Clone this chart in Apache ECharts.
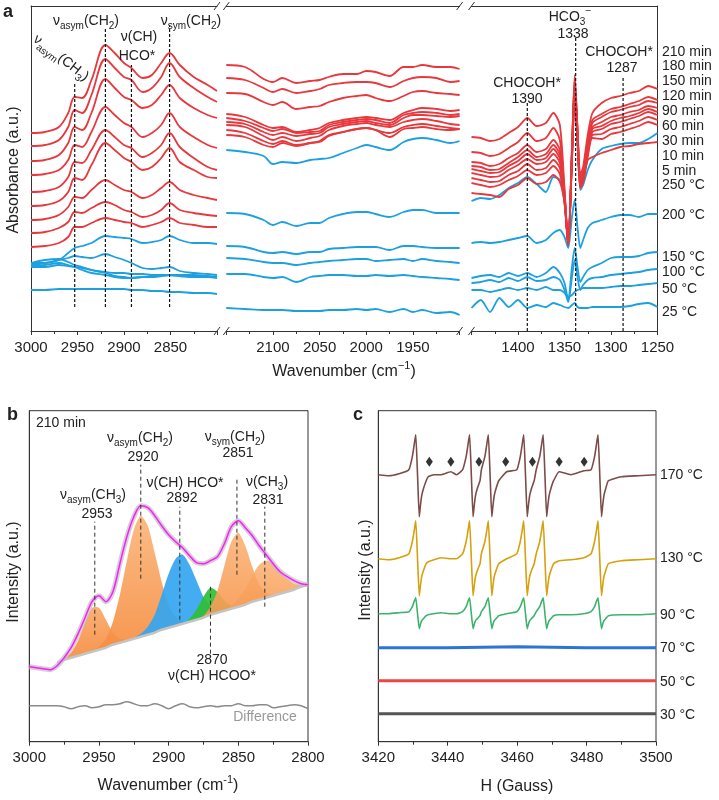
<!DOCTYPE html>
<html><head><meta charset="utf-8">
<script src="https://cdn.jsdelivr.net/npm/echarts@6/dist/echarts.min.js"></script>
<style>html,body{margin:0;padding:0;background:#fff}#c{width:719px;height:800px}</style>
</head><body><div id="c"></div>
<script>
// ---------- Panel a data (absorbance, arbitrary offset units) ----------
const wnLeft  = [3000,2985,2970,2960,2953,2945,2935,2920,2910,2900,2892,2880,2870,2860,2851,2840,2825,2810,2800];
const wnMid   = [2150,2130,2110,2100,2090,2075,2060,2050,2040,2025,2010,2000,1990,1975,1960,1950,1940,1925,1910,1900];
const wnRight = [1450,1440,1430,1420,1410,1400,1390,1380,1370,1362,1355,1350,1346,1342,1339,1336,1333,1330,1325,1320,1310,1300,1290,1280,1270,1260,1250];

const m210_L = [198,199,204,218,234,233,251,286,278,268,263,253,256,268,278,266,254,246,240];
const m180_L = [185,186,191,204,221,218,236,272,263,254,251,239,243,254,268,254,243,234,229];
const m150_L = [170,171,176,188,204,201,218,252,243,234,231,223,226,236,246,233,223,216,213];
const m120_L = [156,157,161,171,186,184,199,224,216,208,204,194,198,206,218,204,194,186,183];
const m90_L  = [139,140,144,154,169,168,181,201,194,186,183,174,178,186,198,184,173,164,161];
const m60_L  = [125,126,130,139,153,151,166,188,181,173,169,161,164,173,183,169,161,154,153];
const m30_L  = [111,112,116,124,134,133,141,151,146,141,139,133,136,143,149,141,136,133,131];
const m10_L  = [98,99,103,109,119,118,123,129,126,121,119,114,116,121,128,121,118,116,115];
const m5_L   = [84,85,88,94,104,104,108,113,111,109,108,104,106,109,113,108,106,104,104];
const c250_L = [68,68,71,78,83,85,88,95,94,93,92,88,89,91,95,91,88,88,87];
const c200_L = [66,68,71,73,75,74,73,77,74,71,68,63,62,63,64,60,58,57,56];
const c150_L = [68,71,72,69,66,64,61,58,55,54,53,54,54,55,56,55,54,54,54];
const c100_L = [65,66,68,66,64,61,58,56,54,53,53,54,54,55,56,55,54,54,53];
const c50_L  = [64,64,66,65,64,63,61,59,58,58,57,57,56,56,56,56,56,55,54];
const c25_L  = [41,41,42,42,42,42,42,42,42,42,41,41,40,40,39,39,38,38,37];

const m210_M = [266,264,252,249,253,248,250,251,254,257,257,260,259,255,264,264,266,264,264,262];
const m180_M = [253,251,243,239,242,238,240,242,246,248,249,249,248,244,250,253,254,253,249,250];
const m150_M = [238,237,229,226,229,222,224,225,229,233,235,236,233,230,235,239,240,238,237,236];
const m120_M = [217,214,206,203,204,199,201,203,208,211,213,214,213,211,218,221,223,222,220,221];
const m90_M  = [213,210,203,200,202,198,199,200,206,209,211,212,211,208,216,218,219,218,216,217];
const m60_M  = [209,207,199,196,198,195,197,198,204,207,209,210,208,206,213,216,216,215,214,215];
const m30_M  = [206,204,195,191,194,190,193,195,201,205,207,208,206,204,209,211,212,210,207,206];
const m10_M  = [201,198,190,187,190,186,188,189,195,199,202,203,201,198,204,206,207,205,203,202];
const m5_M   = [196,194,186,184,188,185,188,190,196,199,202,203,201,194,202,203,204,202,201,202];
const c250_M = [181,179,175,167,169,168,171,172,173,178,183,186,184,181,189,192,193,191,188,190];
const c200_M = [118,117,111,106,109,105,108,108,113,117,119,119,117,114,119,121,121,118,118,118];
const c150_M = [85,84,79,78,79,77,79,79,82,83,84,84,84,81,85,85,84,83,83,83];
const c100_M = [73,72,69,68,68,66,68,69,70,71,72,72,70,71,72,70,72,70,69,68];
const c50_M  = [57,57,54,53,54,49,54,55,56,56,55,55,56,55,56,55,54,53,52,51];
const c25_M  = [23,22,21,21,21,20,20,20,21,21,22,21,22,19,22,19,21,18,19,16];

const m210_R = [194,193,190,192,198,204,213,205,208,218,206,143,86,184,256,204,156,164,196,218,228,233,235,238,240,245,242];
const m180_R = [179,178,175,177,183,189,198,190,193,203,191,139,86,181,252,201,153,159,189,211,217,222,224,227,230,234,231];
const m150_R = [169,168,165,167,173,178,186,179,182,191,181,138,86,179,248,199,151,158,186,208,214,219,221,224,226,230,228];
const m120_R = [165,164,161,162,168,174,181,174,177,186,176,136,86,178,246,198,149,156,184,204,209,214,216,219,221,225,223];
const m90_R  = [162,160,158,159,165,170,177,171,173,182,172,134,86,176,244,196,148,154,182,202,205,210,213,215,218,222,219];
const m60_R  = [158,156,154,155,161,166,172,167,169,177,168,133,86,174,242,194,147,153,179,199,202,207,209,212,215,219,216];
const m30_R  = [153,151,149,150,156,160,167,161,163,171,163,131,86,173,239,193,146,152,177,196,197,202,204,207,210,214,211];
const m10_R  = [148,146,144,146,151,155,161,156,158,165,157,129,86,171,237,191,144,150,174,193,192,197,199,202,205,209,206];
const m5_R   = [138,137,136,134,142,146,153,147,149,156,149,128,86,169,234,189,143,148,171,174,178,181,184,185,187,188,189];
const c250_R = [130,133,132,136,143,148,154,147,139,154,151,128,86,171,231,188,141,146,161,171,182,185,187,188,188,192,198];
const c200_R = [88,89,88,89,91,93,95,88,91,98,101,94,83,114,131,104,83,91,103,108,111,114,116,116,114,117,117];
const c150_R = [53,55,56,54,58,55,58,54,58,64,58,48,31,64,83,64,49,54,61,64,68,73,74,74,75,78,79];
const c100_R = [48,49,51,49,53,50,54,50,51,54,51,41,29,54,71,54,41,46,51,53,54,56,57,58,59,61,62];
const c50_R  = [41,41,39,41,43,41,43,41,44,41,41,38,34,36,39,41,42,43,43,43,43,44,45,45,46,47,48];
const c25_R  = [23,31,19,33,24,31,23,26,24,28,26,24,23,26,28,24,23,23,23,24,24,24,24,25,27,28,24];

const labelsA = ['210 min','180 min','150 min','120 min','90 min','60 min','30 min','10 min','5 min','250 °C','200 °C','150 °C','100 °C','50 °C','25 °C'];
// annotation dashed lines: [wavenumber, from, to]
const dashA_left  = [[2953,24,248],[2920,24,304],[2892,24,266],[2851,24,306]];
const dashA_right = [[1390,0,228],[1338,0,293],[1287,0,254]];

// ---------- Panel b data ----------
const wnB = [3000,2995,2990,2985,2980,2975,2970,2965,2960,2955,2950,2945,2940,2935,2930,2925,2920,2915,2910,2905,2900,2895,2890,2885,2880,2875,2870,2865,2860,2855,2850,2845,2840,2835,2830,2825,2820,2815,2810,2805,2800];
const envelopeB = [75,74,73,72,76,84,94,108,124,140,146,140,150,178,205,225,236,234,226,216,207,200,194,186,179,178,181,185,198,215,221,214,206,196,187,178,170,165,161,158,157];
const baseB = ['-','-','-','-',79,82,84,86,88,90,92,94,97,99,101,103,105,107,109,112,114,116,118,120,122,124,127,129,131,133,135,137,140,142,144,146,148,150,152,155,157];
const peak2953 = ['-','-','-','-',0,1,5,15,31,44,42,28,12,4,1,0,0,0,0,0,0,0,0,0,0,0,0,0,0,0,0,0,0,0,0,0,0,0,0,0,0];
const peak2920 = ['-','-','-','-',0,0,0,0,0,1,3,9,23,48,80,109,121,109,80,48,23,9,3,1,0,0,0,0,0,0,0,0,0,0,0,0,0,0,0,0,0];
const peak2892 = ['-','-','-','-',0,0,0,0,0,0,0,0,0,0,0,1,3,8,18,35,54,67,69,57,39,21,9,3,1,0,0,0,0,0,0,0,0,0,0,0,0];
const peak2870 = ['-','-','-','-',0,0,0,0,0,0,0,0,0,0,0,0,0,0,0,0,0,0,0,3,10,21,27,21,10,3,0,0,0,0,0,0,0,0,0,0,0];
const peak2851 = ['-','-','-','-',0,0,0,0,0,0,0,0,0,0,0,0,0,0,0,0,0,0,0,0,0,2,8,22,45,67,74,59,35,15,5,1,0,0,0,0,0];
const peak2831 = ['-','-','-','-',0,0,0,0,0,0,0,0,0,0,0,0,0,0,0,0,0,0,0,0,0,0,0,0,1,3,8,16,26,35,37,32,22,13,6,2,1];
const diffB = [36,36,36,36,36,35,33,35,36,34,35,37,37,38,40,38,36,36,38,36,33,36,38,35,34,35,36,35,36,36,38,36,36,37,37,34,35,36,37,36,33];
const dashB = [[2953,107,220],[2920,163,277],[2892,122,235],[2870,88,158],[2851,167,263],[2831,135,235]];

// ---------- Panel c data ----------
const hC = [3420,3423,3426,3428.8,3429.8,3430.3,3430.55,3430.8,3431.3,3431.8,3432.1,3432.5,3433.0,3433.8,3434.4,3436,3438,3440.9,3442.5,3444.3,3445.3,3445.8,3446.05,3446.3,3446.8,3447.3,3447.6,3448.0,3448.5,3449.3,3449.7,3450.7,3451.2,3451.45,3451.7,3452.2,3452.7,3453.0,3453.4,3453.9,3454.7,3457.0,3459.9,3460.9,3461.4,3461.65,3461.9,3462.4,3462.9,3463.2,3463.6,3464.1,3464.9,3465.5,3466.5,3467.0,3467.25,3467.5,3468.0,3468.5,3468.8,3469.2,3469.7,3470.5,3472.1,3475.5,3479.2,3481.3,3482.3,3482.8,3483.05,3483.3,3483.8,3484.3,3484.6,3485.0,3485.5,3486.3,3490,3495,3500];
const e170 = [267,266,268,
  272,285,296,302,307,267,225,235,246,253,261,
  265,267,267,270,267,
  272,285,296,302,307,267,225,235,246,253,261,
  272,285,296,302,307,267,225,235,246,253,261,
  270,
  272,285,296,302,307,267,225,235,246,253,261,
  272,285,296,302,307,267,225,235,246,253,261,
  270,267,271,
  272,285,296,302,307,267,225,235,246,253,261,
  265,266,267];
const e130 = [183,182,184,
  188,200,210,216,221,183,146,155,165,171,178,
  180,182,184,183,183,
  188,200,210,216,221,183,146,155,165,171,178,
  188,200,210,216,221,183,146,155,165,171,178,
  183,
  188,200,210,216,221,183,146,155,165,171,178,
  188,200,210,216,221,183,146,155,165,171,178,
  181,182,184,
  188,200,210,216,221,183,146,155,165,171,178,
  181,182,183];
const e90 = [128,128,129,
  130,135,140,142,144,128,113,117,121,123,126,
  127,128,129,128,128,
  130,135,140,142,144,128,113,117,121,123,126,
  130,135,140,142,144,128,113,117,121,123,126,
  128,
  130,135,140,142,144,128,113,117,121,123,126,
  130,135,140,142,144,128,113,117,121,123,126,
  127,127,128,
  130,135,140,142,144,128,113,117,121,123,126,
  127,127,128];
const hFlat = [3420,3440,3460,3480,3500];
const e70 = [94,94,95,94,94];
const e50 = [61,61,61,61,61];
const e30 = [28,28,28,28,28];
const oplusH = [3430.9,3446.4,3452.0,3461.8,3467.4,3483.1];
const diamH = [3434.7,3440.9,3449.0,3456.7,3464.4,3472.1,3479.3];
const labelsC = ['170 °C','130 °C','90 °C','70 °C','50 °C','30 °C'];

// ---------- styling / layout ----------
const F = '"Liberation Sans", Arial, Helvetica, sans-serif';
const RED = '#e8383d', BLUE = '#1ca0e0', AX = '#333';
const labelYA = [52,66,81,96,111,126,141,156,171,185,215,257,272,289,312];
const labelYC = [475,558,615,648,682,715];

function rich(fs){
  const s = Math.round(fs*0.68);
  return { n:{fontSize:fs,lineHeight:fs+7,fontFamily:F,fill:'#222',color:'#222'},
           s:{fontSize:s,lineHeight:s,verticalAlign:'bottom',fontFamily:F,fill:'#222',color:'#222'},
           p:{fontSize:s,lineHeight:s,verticalAlign:'top',fontFamily:F,fill:'#222',color:'#222'} };
}
function T(x,y,text,o){
  o = o||{};
  const fs = o.fs||14;
  return {type:'text', x:x, y:y, rotation:o.rot||0, z:100, silent:true,
    style:{text:text, rich:rich(fs), fontSize:fs, fontFamily:F, fontWeight:o.bold?'bold':'normal',
           fill:o.color||'#222', align:o.align||'center', verticalAlign:'middle'}};
}
function slash(x,y){ return {type:'line', z:100, silent:true, shape:{x1:x-3,y1:y+4,x2:x+3,y2:y-4}, style:{stroke:AX,lineWidth:1}}; }

function botAxis(grid,min,max,inv,interval,showMin,showMax){
  return {type:'value', gridIndex:grid, min:min, max:max, inverse:inv, interval:interval,
    axisLine:{show:true,onZero:false,lineStyle:{color:AX,width:1}},
    axisTick:{show:true,length:4,lineStyle:{color:AX}},
    minorTick:{show:true,splitNumber:2,length:3,lineStyle:{color:AX}},
    splitLine:{show:false}, minorSplitLine:{show:false},
    axisLabel:{show:true,fontSize:15,fontFamily:F,color:'#222',margin:9,showMinLabel:showMin,showMaxLabel:showMax,
      formatter:function(v){ return String(v); }}};
}
function topAxis(grid,min,max,inv){
  return {type:'value', gridIndex:grid, position:'top', min:min, max:max, inverse:inv,
    axisLine:{show:true,onZero:false,lineStyle:{color:AX,width:1}}, axisTick:{show:false},
    axisLabel:{show:false}, splitLine:{show:false}};
}
function yAx(grid,max,showLine,pos){
  return {type:'value', gridIndex:grid, min:0, max:max, position:pos||'left',
    axisLine:{show:showLine,onZero:false,lineStyle:{color:AX,width:1}}, axisTick:{show:false},
    axisLabel:{show:false}, splitLine:{show:false}};
}
function pairs(xs,ys){ return xs.map((x,i)=>[x, ys[i]]); }
function lineS(xs,ys,xi,yi,color,w,extra){
  return Object.assign({type:'line', xAxisIndex:xi, yAxisIndex:yi, data:pairs(xs,ys), symbol:'none',
    smooth:0.35, silent:true, animation:false, lineStyle:{color:color,width:w}}, extra||{});
}
// filled deconvolution component: area between baseline and baseline+height, mapped via api.coord
function peakSeries(heights, fill){
  const rows = [];
  wnB.forEach((w,i)=>{ if (baseB[i] !== '-') rows.push([w, baseB[i], heights[i]]); });
  return {type:'custom', xAxisIndex:6, yAxisIndex:3, data:rows, silent:true, animation:false, z:2,
    encode:{x:0, y:1},
    renderItem:function(params, api){
      if (params.dataIndexInside !== 0) return null;
      const n = params.dataInsideLength;
      const top = [], bot = [];
      for (let i=0;i<n;i++){
        const w = api.value(0,i), b = api.value(1,i), h = api.value(2,i);
        top.push(api.coord([w, b+h])); bot.push(api.coord([w, b]));
      }
      return {type:'polygon', shape:{points: top.concat(bot.reverse()), smooth:0.25}, style:{fill:fill}};
    }};
}

const series = [];
const curvesA = [
  [c25_L,c25_M,c25_R,BLUE],[c50_L,c50_M,c50_R,BLUE],[c100_L,c100_M,c100_R,BLUE],
  [c150_L,c150_M,c150_R,BLUE],[c200_L,c200_M,c200_R,BLUE],[c250_L,c250_M,c250_R,BLUE],
  [m5_L,m5_M,m5_R,RED],[m10_L,m10_M,m10_R,RED],[m30_L,m30_M,m30_R,RED],[m60_L,m60_M,m60_R,RED],
  [m90_L,m90_M,m90_R,RED],[m120_L,m120_M,m120_R,RED],[m150_L,m150_M,m150_R,RED],
  [m180_L,m180_M,m180_R,RED],[m210_L,m210_M,m210_R,RED]
];
curvesA.forEach(c=>{
  series.push(lineS(wnLeft,c[0],0,0,c[3],1.8));
  series.push(lineS(wnMid,c[1],1,1,c[3],1.8));
  series.push(lineS(wnRight,c[2],2,2,c[3],1.8,{smooth:0.25}));
});
dashA_left.forEach(d=>series.push({type:'line',xAxisIndex:0,yAxisIndex:0,data:[[d[0],d[1]],[d[0],d[2]]],symbol:'none',silent:true,animation:false,z:5,lineStyle:{color:'#111',width:1.2,type:[3,2]}}));
dashA_right.forEach(d=>series.push({type:'line',xAxisIndex:2,yAxisIndex:2,data:[[d[0],d[1]],[d[0],d[2]]],symbol:'none',silent:true,animation:false,z:5,lineStyle:{color:'#111',width:1.2,type:[3,2]}}));

// Panel b
function orange(){ return new echarts.graphic.LinearGradient(0,0,0,1,[{offset:0,color:'rgba(251,180,120,0.9)'},{offset:1,color:'rgba(245,138,60,0.92)'}]); }
series.push(peakSeries(peak2953, orange()));
series.push(peakSeries(peak2920, orange()));
series.push(peakSeries(peak2892, 'rgba(52,165,240,0.92)'));
series.push(peakSeries(peak2870, 'rgba(46,190,52,0.92)'));
series.push(peakSeries(peak2831, orange()));
series.push(peakSeries(peak2851, orange()));
series.push(lineS(wnB,baseB,6,3,'#c4c4c4',2.5,{smooth:false,z:3}));
series.push(lineS(wnB,envelopeB,6,3,'rgba(190,190,190,0.7)',5,{smooth:0.3,z:3}));
series.push(lineS(wnB,envelopeB,6,3,'#ff1aff',1.5,{smooth:0.3,z:4}));
series.push(lineS(wnB,diffB,6,3,'#8a8a8a',1.5,{smooth:0.4}));
dashB.forEach(d=>series.push({type:'line',xAxisIndex:6,yAxisIndex:3,data:[[d[0],d[1]],[d[0],d[2]]],symbol:'none',silent:true,animation:false,z:5,lineStyle:{color:'#333',width:1,type:[4,3]}}));

// Panel c
series.push(lineS(hC,e170,7,4,'#7c4c49',1.6,{smooth:0.15}));
series.push(lineS(hC,e130,7,4,'#d6a10d',1.6,{smooth:0.15}));
series.push(lineS(hC,e90,7,4,'#3bb36d',1.6,{smooth:0.15}));
series.push(lineS(hFlat,e70,7,4,'#2d74d6',3,{smooth:false}));
series.push(lineS(hFlat,e50,7,4,'#ec4646',3,{smooth:false}));
series.push(lineS(hFlat,e30,7,4,'#555555',3,{smooth:false}));
series.push({type:'scatter',xAxisIndex:7,yAxisIndex:4,data:oplusH.map(h=>[h,317]),symbol:'circle',symbolSize:1,silent:true,animation:false,
  itemStyle:{opacity:0},label:{show:true,position:'inside',formatter:'⊕',fontSize:16,fontFamily:'DejaVu Sans',color:'#222'}});
series.push({type:'scatter',xAxisIndex:7,yAxisIndex:4,data:diamH.map(h=>[h,280]),symbol:'diamond',symbolSize:[7,10],silent:true,animation:false,itemStyle:{color:'#000'}});

const graphic = [
  T(3,12,'a',{bold:true,fs:18,align:'left'}),
  T(86,21,'{n|ν}{s|asym}{n|(CH}{s|2}{n|)}'),
  T(191,21,'{n|ν}{s|sym}{n|(CH}{s|2}{n|)}'),
  T(139,37,'ν(CH)'), T(137,56,'HCO*'),
  T(61,58,'{n|ν}{s|asym}{n|(CH}{s|3}{n|)}',{rot:-0.66}),
  T(570,17,'{n|HCO}{s|3}{p|−}'), T(573,34,'1338'),
  T(527,83,'CHOCOH*'), T(527,99,'1390'),
  T(619,52,'CHOCOH*'), T(622,68,'1287'),
  T(14,170,'Absorbance (a.u.)',{rot:Math.PI/2,fs:16}),
  T(344,372,'{n|Wavenumber (cm}{p|−1}{n|)}',{fs:16}),
  T(7,415,'b',{bold:true,fs:18,align:'left'}),
  T(36,423,'210 min',{align:'left'}),
  T(140,438,'{n|ν}{s|asym}{n|(CH}{s|2}{n|)}'), T(143,457,'2920'),
  T(235,437,'{n|ν}{s|sym}{n|(CH}{s|2}{n|)}'), T(238,453,'2851'),
  T(185,483,'ν(CH) HCO*'), T(182,498,'2892'),
  T(267,482,'{n|ν(CH}{s|3}{n|)}'), T(268,500,'2831'),
  T(93,495,'{n|ν}{s|asym}{n|(CH}{s|3}{n|)}'), T(97,514,'2953'),
  T(212,660,'2870'), T(212,676,'ν(CH) HCOO*'),
  T(265,717,'Difference',{color:'#999'}),
  T(14,572,'Intensity (a.u.)',{rot:Math.PI/2,fs:16}),
  T(168,786,'{n|Wavenumber (cm}{p|-1}{n|)}',{fs:16}),
  T(353,415,'c',{bold:true,fs:18,align:'left'}),
  T(366,570,'Intensity (a.u.)',{rot:Math.PI/2,fs:16}),
  T(517,787,'H (Gauss)',{fs:16})
];
labelsA.forEach((t,i)=>graphic.push(T(662,labelYA[i],t,{align:'left'})));
labelsC.forEach((t,i)=>graphic.push(T(660,labelYC[i],t,{align:'left'})));
[217,226.3,459.6,471.5].forEach(x=>{ graphic.push(slash(x,6)); graphic.push(slash(x,331)); });

const option = {
  backgroundColor:'#fff', animation:false,
  grid:[
    {left:31,top:6,width:186,height:325,outerBoundsMode:'none'},
    {left:226.3,top:6,width:233.3,height:325,outerBoundsMode:'none'},
    {left:471.5,top:6,width:186,height:325,outerBoundsMode:'none'},
    {left:29.3,top:410.7,width:278.7,height:331,show:true,borderColor:AX,borderWidth:1,outerBoundsMode:'none'},
    {left:378.3,top:410.7,width:277.7,height:331,show:true,borderColor:AX,borderWidth:1,outerBoundsMode:'none'}
  ],
  xAxis:[
    botAxis(0,2800,3000,true,50,false,true),
    botAxis(1,1900,2150,true,50,false,false),
    botAxis(2,1250,1450,true,50,true,false),
    topAxis(0,2800,3000,true), topAxis(1,1900,2150,true), topAxis(2,1250,1450,true),
    botAxis(3,2800,3000,true,50,true,true),
    botAxis(4,3420,3500,false,20,true,true)
  ],
  yAxis:[ yAx(0,325,true), yAx(1,325,false), yAx(2,325,true,'right'), yAx(3,331,true), yAx(4,331,true) ],
  series:series,
  graphic:graphic
};
const chart = echarts.init(document.getElementById('c'));
chart.setOption(option);
</script></body></html>
